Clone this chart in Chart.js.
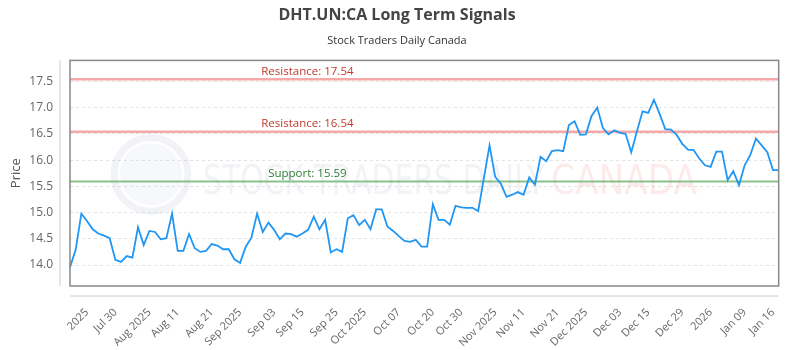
<!DOCTYPE html>
<html>
<head>
<meta charset="utf-8">
<script src="https://cdn.jsdelivr.net/npm/chart.js@4.4.1/dist/chart.umd.min.js"></script>
<style>
  html, body { margin: 0; padding: 0; background: #fff; }
  #wrap { width: 800px; height: 350px; }
</style>
</head>
<body>
<div id="wrap"><canvas id="grafico"></canvas></div>
<script>
// valores
const tickLabels = ['2025', 'Jul 30', 'Aug 2025', 'Aug 11', 'Aug 21', 'Sep 2025', 'Sep 03', 'Sep 15',
  'Sep 25', 'Oct 2025', 'Oct 07', 'Oct 20', 'Oct 30', 'Nov 2025', 'Nov 11', 'Nov 21', 'Dec 2025',
  'Dec 03', 'Dec 15', 'Dec 29', '2026', 'Jan 09', 'Jan 16'];
const tickIndex = [3, 8, 14, 19, 25, 30, 36, 41, 47, 52, 58, 64, 69, 75, 80, 86, 91, 97, 102, 108, 113, 119, 124];

const prices = [
  13.96, 14.29, 14.98, 14.84, 14.68, 14.60, 14.56, 14.51, 14.10, 14.06,
  14.17, 14.14, 14.72, 14.38, 14.65, 14.63, 14.49, 14.51, 14.98, 14.27,
  14.27, 14.59, 14.32, 14.25, 14.27, 14.40, 14.37, 14.30, 14.30, 14.11,
  14.04, 14.35, 14.52, 14.98, 14.63, 14.81, 14.67, 14.49, 14.60, 14.59,
  14.54, 14.60, 14.67, 14.92, 14.68, 14.86, 14.24, 14.30, 14.25, 14.89,
  14.95, 14.76, 14.86, 14.68, 15.06, 15.06, 14.73, 14.65, 14.55, 14.46,
  14.44, 14.48, 14.35, 14.35, 15.16, 14.86, 14.86, 14.77, 15.13, 15.10,
  15.09, 15.09, 15.03, 15.65, 16.28, 15.68, 15.55, 15.30, 15.34, 15.39,
  15.34, 15.67, 15.53, 16.06, 15.98, 16.17, 16.19, 16.17, 16.67, 16.74,
  16.48, 16.49, 16.84, 17.00, 16.61, 16.49, 16.57, 16.52, 16.50, 16.15,
  16.55, 16.93, 16.90, 17.15, 16.88, 16.59, 16.58, 16.48, 16.31, 16.20,
  16.19, 16.03, 15.90, 15.87, 16.16, 16.16, 15.62, 15.79, 15.52, 15.90,
  16.10, 16.41, 16.28, 16.15, 15.81, 15.81
];

const resistencias = [17.54, 16.54];
const suportes = [15.59];

// rótulos do eixo x: só aparecem nas posições dos ticks
const labels = prices.map(() => '');
tickIndex.forEach((idx, i) => { labels[idx] = tickLabels[i]; });

// texto esticado/comprimido para caber numa largura
function textoLargura(ctx, txt, x, y, largura) {
  const w = ctx.measureText(txt).width;
  ctx.save();
  ctx.translate(x, y);
  ctx.scale(largura / w, 1);
  ctx.fillText(txt, 0, 0);
  ctx.restore();
}

// marca d'água, linhas de suporte/resistência e moldura
const extrasPlugin = {
  id: 'extras',
  beforeDatasetsDraw(chart) {
    const { ctx, chartArea: a, scales } = chart;
    ctx.save();
    // marca d'água
    ctx.globalAlpha = 0.2;
    ctx.strokeStyle = '#b8c4d8';
    ctx.lineWidth = 7;
    ctx.beginPath();
    ctx.arc(a.left + 81, a.top + 114, 37, 0, Math.PI * 2);
    ctx.stroke();
    ctx.fillStyle = '#d5dceb';
    ctx.beginPath();
    ctx.arc(a.left + 81, a.top + 114, 31, 0, Math.PI * 2);
    ctx.fill();
    ctx.fillStyle = '#b8c4d8';
    ctx.font = '40px "DejaVu Sans"';
    ctx.textBaseline = 'alphabetic';
    ctx.textAlign = 'left';
    textoLargura(ctx, 'STOCK TRADERS DAILY', a.left + 133, a.top + 134, 342);
    ctx.fillStyle = '#f59a9a';
    textoLargura(ctx, 'CANADA', a.left + 481, a.top + 134, 146);
    ctx.globalAlpha = 1;

    const y = scales.y;
    const xLabel = a.left + a.width * 0.335;
    ctx.font = '11.5px "Open Sans"';
    ctx.textAlign = 'center';
    ctx.textBaseline = 'bottom';
    resistencias.forEach(v => {
      const py = y.getPixelForValue(v);
      ctx.strokeStyle = 'rgba(240, 110, 110, 0.6)';
      ctx.lineWidth = 2.5;
      ctx.beginPath();
      ctx.moveTo(a.left, py);
      ctx.lineTo(a.right, py);
      ctx.stroke();
      ctx.fillStyle = '#c0392b';
      ctx.fillText('Resistance: ' + v.toFixed(2), xLabel, py - 2);
    });
    suportes.forEach(v => {
      const py = y.getPixelForValue(v);
      ctx.strokeStyle = 'rgba(90, 170, 90, 0.7)';
      ctx.lineWidth = 2;
      ctx.beginPath();
      ctx.moveTo(a.left, py);
      ctx.lineTo(a.right, py);
      ctx.stroke();
      ctx.fillStyle = '#2e7d32';
      ctx.fillText('Support: ' + v.toFixed(2), xLabel, py - 2);
    });
    ctx.restore();
  },
  afterDraw(chart) {
    const { ctx, chartArea: a } = chart;
    ctx.save();
    // moldura da área do gráfico
    ctx.strokeStyle = '#888';
    ctx.lineWidth = 1.5;
    ctx.strokeRect(a.left, a.top, a.width, a.height);
    // eixos afastados
    ctx.strokeStyle = '#ccc';
    ctx.lineWidth = 1;
    ctx.beginPath();
    ctx.moveTo(a.left - 10, a.top);
    ctx.lineTo(a.left - 10, a.bottom);
    ctx.moveTo(a.left, a.bottom + 10);
    ctx.lineTo(a.right, a.bottom + 10);
    ctx.stroke();
    ctx.restore();
  }
};

function grafico() {
  const ctx = document.getElementById('grafico').getContext('2d');
  window.myChart = new Chart(ctx, {
    type: 'line',
    data: {
      labels: labels,
      datasets: [{
        label: 'Price',
        data: prices,
        borderColor: '#2196f3',
        borderWidth: 1.8,
        pointRadius: 0,
        tension: 0,
        fill: false
      }]
    },
    options: {
      responsive: true,
      maintainAspectRatio: false,
      animation: false,
      layout: { padding: { left: 4, right: 10, top: 0, bottom: 0 } },
      scales: {
        x: {
          afterFit: scale => { scale.height = 64; },
          grid: { display: false },
          border: { display: false },
          ticks: {
            autoSkip: false,
            minRotation: 45,
            maxRotation: 45,
            padding: 12,
            color: '#666',
            font: { family: '"Open Sans"', size: 11 }
          }
        },
        y: {
          min: 13.6,
          max: 17.9,
          afterBuildTicks: scale => {
            scale.ticks = scale.ticks.filter(t => Math.abs(t.value * 2 - Math.round(t.value * 2)) < 1e-6);
          },
          afterFit: scale => { scale.width = 66; },
          border: { display: false, dash: [3, 3] },
          grid: {
            drawTicks: false,
            color: '#e2e2e2',
            lineWidth: 1
          },
          ticks: {
            stepSize: 0.5,
            padding: 17,
            color: '#666',
            font: { family: '"Open Sans"', size: 12 },
            callback: v => v.toFixed(1)
          },
          title: {
            display: true,
            text: 'Price',
            color: '#555',
            font: { family: '"Open Sans"', size: 13 }
          }
        }
      },
      plugins: {
        legend: { display: false },
        tooltip: { enabled: false },
        title: {
          display: true,
          text: 'DHT.UN:CA Long Term Signals',
          color: '#444',
          font: { family: '"Open Sans"', size: 16, weight: 'bold' },
          padding: { top: 6, bottom: 6 }
        },
        subtitle: {
          display: true,
          text: 'Stock Traders Daily Canada',
          color: '#333',
          font: { family: '"Open Sans"', size: 11 },
          padding: { top: 3, bottom: 13 }
        }
      }
    },
    plugins: [extrasPlugin]
  });
}

document.addEventListener('DOMContentLoaded', grafico);
</script>
</body>
</html>
